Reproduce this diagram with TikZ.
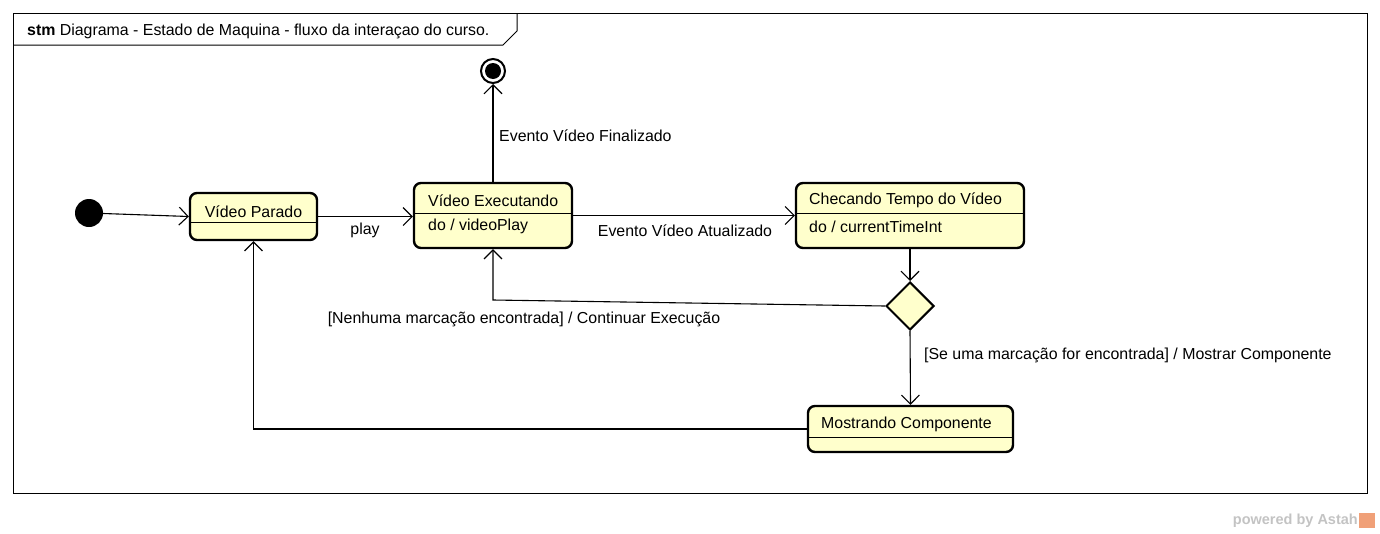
\documentclass[tikz,border=0pt]{standalone}
\usepackage{fontspec}
\setmainfont{Liberation Sans}
\usetikzlibrary{arrows.meta,shapes.geometric}
\definecolor{stfill}{RGB}{255,255,204}
\definecolor{wmgray}{RGB}{195,195,195}
\definecolor{wmorange}{RGB}{240,160,120}
\begin{document}
\begin{tikzpicture}[x=1pt,y=-1pt,
  every node/.style={font=\fontsize{15.9}{18}\selectfont},
  statebox/.style={draw, line width=2.4, rounded corners=7, fill=stfill, inner sep=0},
  sep/.style={line width=1},
  lbl/.style={inner sep=0, anchor=west},
  arr/.style={line width=1.1, -{Straight Barb[length=9, width=18, line width=1.1]}},
  ln/.style={line width=1.1}]
\useasboundingbox (0,0) rectangle (1380,533);
% frame
\node[draw, line width=1, minimum width=1354, minimum height=480, inner sep=0, anchor=north west] (frame) at (13,13) {};
\coordinate (t1) at (517,13);
\coordinate (t2) at (517,31);
\coordinate (t3) at (503,45);
\coordinate (t4) at (13,45);
\draw[line width=1] (t1) -- (t2) -- (t3) -- (t4);
\node[lbl] (title) at (27,31.5) {\textbf{stm} Diagrama - Estado de Maquina - fluxo da interaçao do curso.};
% states
\node[statebox, minimum width=127, minimum height=47] (ps) at (253.5,216.5) {};
\node[inner sep=0] (pst) at (253.5,211.5) {Vídeo Parado};
\coordinate (ps1) at (190,222); \coordinate (ps2) at (317,222);
\draw[sep] (ps1) -- (ps2);

\node[statebox, minimum width=158, minimum height=65] (ex) at (493,215.5) {};
\node[lbl] (ext) at (428,200.5) {Vídeo Executando};
\node[lbl] (exd) at (428,226.5) {do / videoPlay};
\coordinate (ex1) at (414,213); \coordinate (ex2) at (572,213);
\draw[sep] (ex1) -- (ex2);

\node[statebox, minimum width=228, minimum height=65] (ch) at (910,215.5) {};
\node[lbl] (cht) at (809,200.5) {Checando Tempo do Vídeo};
\node[lbl] (chd) at (809,226.5) {do / currentTimeInt};
\coordinate (ch1) at (796,213); \coordinate (ch2) at (1024,213);
\draw[sep] (ch1) -- (ch2);

\node[statebox, minimum width=205, minimum height=46] (mo) at (910.5,429) {};
\node[lbl] (mot) at (821,424.5) {Mostrando Componente};
\coordinate (mo1) at (808,437); \coordinate (mo2) at (1013,437);
\draw[sep] (mo1) -- (mo2);

% pseudo states
\node[circle, fill=black, minimum size=28, inner sep=0] (init) at (89,213) {};
\node[circle, draw, line width=2, fill=white, minimum size=24, inner sep=0] (fin) at (493,71) {};
\node[circle, fill=black, minimum size=16, inner sep=0] (fini) at (493,71) {};
\node[diamond, draw, line width=2, fill=stfill, minimum width=48, minimum height=48, inner sep=0] (dec) at (910,306) {};

% transitions
\draw[arr] (init) -- (ps.west);
\draw[arr] (ps.east) -- (ps.east -| ex.west);
\node[inner sep=0] (lplay) at (365,230.5) {play};
\draw[arr] (ex.north) -- (fin.south);
\node[lbl] (lfin) at (499,136) {Evento Vídeo Finalizado};
\draw[arr] (ex.east) -- (ch.west);
\node[inner sep=0] (latu) at (685,230.5) {Evento Vídeo Atualizado};
\draw[arr] (ch.south) -- (dec.north);
\coordinate (bend1) at (493,300);
\draw[arr] (dec.west) -- (bend1) -- (ex.south);
\node[inner sep=0] (lnen) at (524,319.5) {[Nenhuma marcação encontrada] / Continuar Execução};
\draw[arr] (dec.south) -- (mo.north);
\node[lbl] (lse) at (924,355.5) {[Se uma marcação for encontrada] / Mostrar Componente};
\draw[arr] (mo.west) -| (ps.south);

% watermark
\node[inner sep=0, anchor=east, text=wmgray, font=\fontsize{14.5}{16}\bfseries\selectfont] (wm) at (1358,520.5) {powered by Astah};
\node[fill=wmorange, minimum width=16, minimum height=15, inner sep=0, anchor=west] (logo) at (1359,520) {};
\end{tikzpicture}
\end{document}
